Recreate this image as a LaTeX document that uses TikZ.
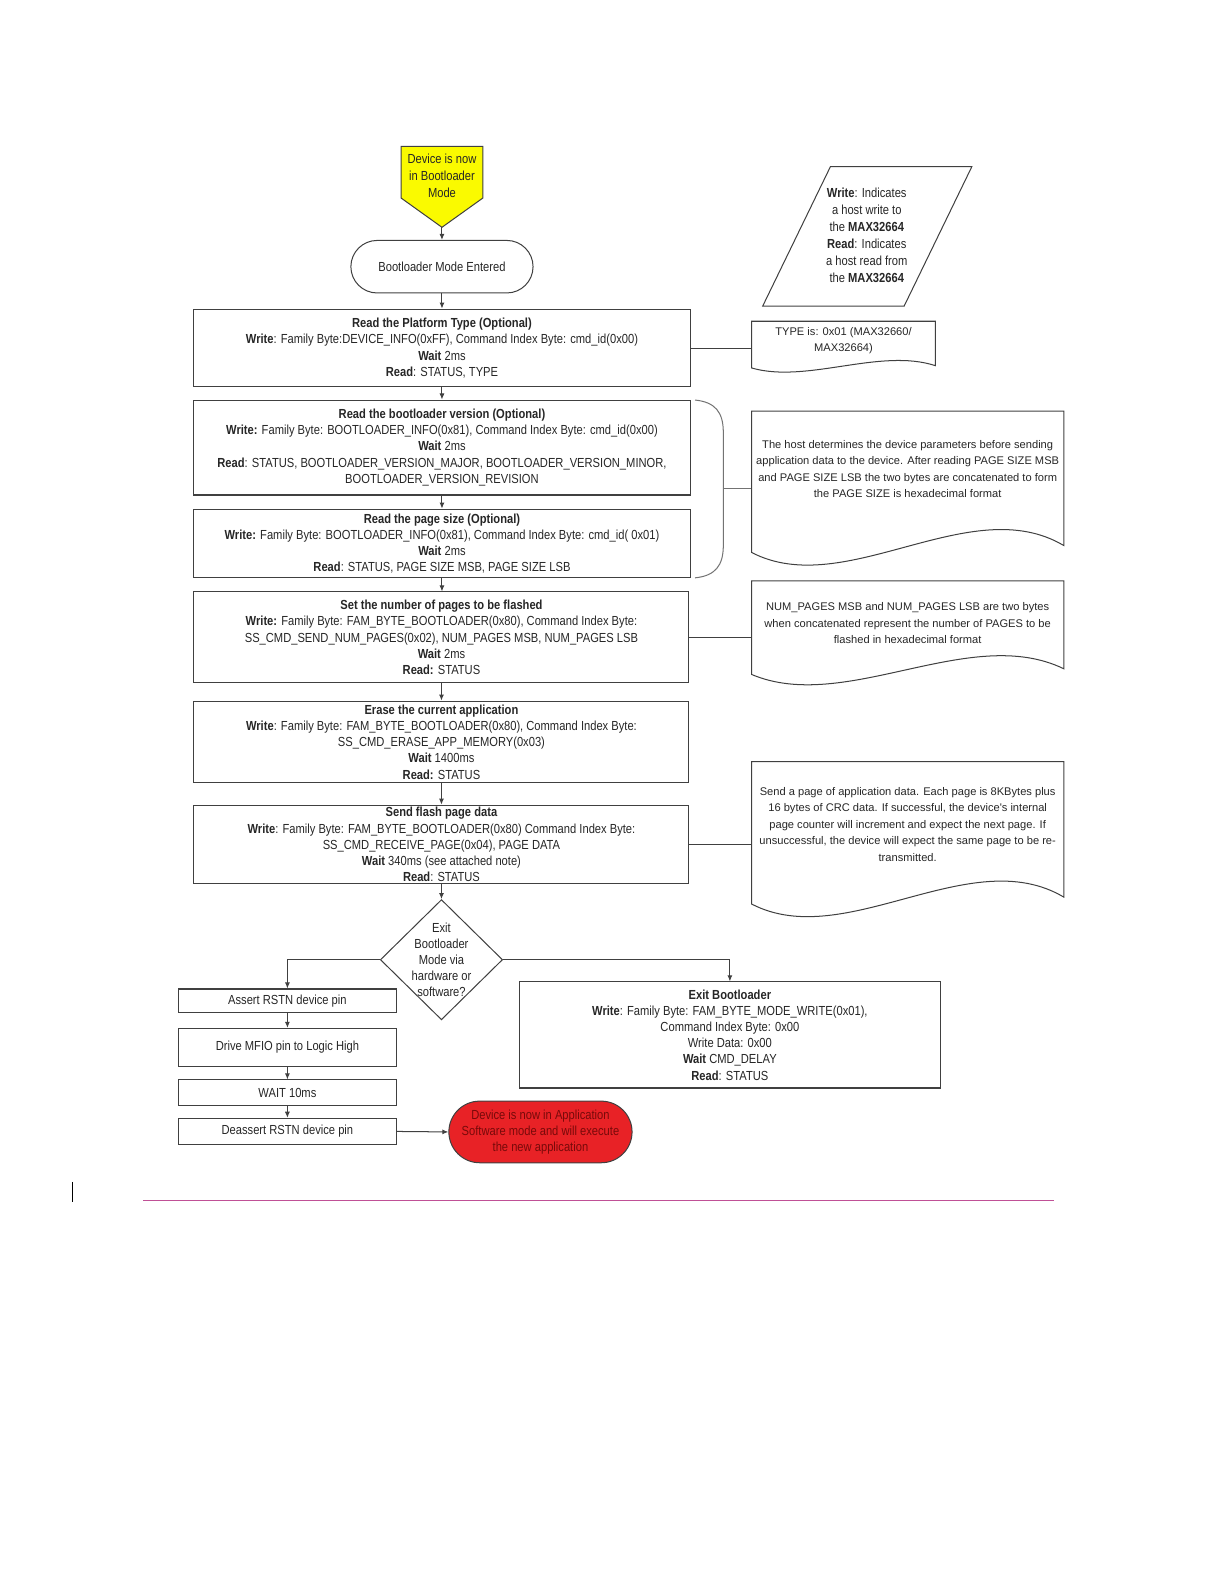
\documentclass[tikz,border=0pt]{standalone}
\usepackage{fontspec}
\setmainfont{Liberation Sans}[FakeStretch=0.85]
\newfontfamily\notefont{Liberation Sans}
\usetikzlibrary{positioning, arrows.meta, shapes.geometric, shapes.misc, calc}

\definecolor{bootyellow}{RGB}{250,250,0}
\definecolor{appred}{RGB}{232,34,38}
\definecolor{apptext}{RGB}{120,10,10}
\definecolor{rulemagenta}{RGB}{192,80,150}

% document outline with wavy bottom: x1, top, x2, bottom, amplitude
\newcommand{\docbox}[5]{%
  \draw[outline] (#1,#2) -- (#3,#2) -- (#3,#4)
    .. controls ({#3-0.3*(#3-#1)},{#4-#5}) and ({#1+0.3*(#3-#1)},{#4+#5}) .. (#1,{#4+#5/8}) -- cycle;}

\begin{document}
\begin{tikzpicture}[x=1pt, y=-1pt, font=\fontsize{13}{16}\selectfont, text=black!85]
	% styles
	\tikzset{
		outline/.style={draw=black!75, line width=1pt},
		arr/.style={outline, -{Latex[length=6pt,width=5pt]}},
		stepbox/.style={outline, rectangle, align=center, inner sep=2pt},
		note/.style={align=center, minimum width=309pt, inner xsep=0pt, font=\notefont\fontsize{11}{16.3}\selectfont}
	}
	\useasboundingbox (0,0) rectangle (1212,1568);

	% entry
	\draw[outline, fill=bootyellow] (397,145) -- (478,145) -- (478,196) -- (437.5,225) -- (397,196) -- cycle;
	\node (devboot) [align=center, font=\fontsize{13}{17}\selectfont] at (437.5,174) {Device is now\\in Bootloader\\Mode};
	\coordinate (devtip) at (437.5,225);
	\node (entered) [outline, rounded rectangle, minimum width=187pt, minimum height=52pt] at (437.5,264) {Bootloader Mode Entered};

	% main steps
	\node (platform) [stepbox, minimum width=492pt, minimum height=77pt] at (437.5,344.5)
		{\textbf{Read the Platform Type (Optional)}\\
		 \textbf{Write}: Family Byte:DEVICE\_INFO(0xFF), Command Index Byte: cmd\_id(0x00)\\
		 \textbf{Wait} 2ms\\
		 \textbf{Read}: STATUS, TYPE};
	\node (blver) [stepbox, minimum width=492pt, minimum height=94pt] at (437.5,443)
		{\textbf{Read the bootloader version (Optional)}\\
		 \textbf{Write:} Family Byte: BOOTLOADER\_INFO(0x81), Command Index Byte: cmd\_id(0x00)\\
		 \textbf{Wait} 2ms\\
		 \textbf{Read}: STATUS, BOOTLOADER\_VERSION\_MAJOR, BOOTLOADER\_VERSION\_MINOR,\\
		 BOOTLOADER\_VERSION\_REVISION};
	\node (pgsize) [stepbox, minimum width=492pt, minimum height=68pt] at (437.5,538)
		{\textbf{Read the page size (Optional)}\\
		 \textbf{Write:} Family Byte: BOOTLOADER\_INFO(0x81), Command Index Byte: cmd\_id( 0x01)\\
		 \textbf{Wait} 2ms\\
		 \textbf{Read}: STATUS, PAGE SIZE MSB, PAGE SIZE LSB};
	\node (npages) [stepbox, minimum width=490pt, minimum height=90pt] at (437,631)
		{\textbf{Set the number of pages to be flashed}\\
		 \textbf{Write:} Family Byte: FAM\_BYTE\_BOOTLOADER(0x80), Command Index Byte:\\
		 SS\_CMD\_SEND\_NUM\_PAGES(0x02), NUM\_PAGES MSB, NUM\_PAGES LSB\\
		 \textbf{Wait} 2ms\\
		 \textbf{Read:} STATUS};
	\node (erase) [stepbox, minimum width=490pt, minimum height=81pt] at (437,734.5)
		{\textbf{Erase the current application}\\
		 \textbf{Write}: Family Byte: FAM\_BYTE\_BOOTLOADER(0x80), Command Index Byte:\\
		 SS\_CMD\_ERASE\_APP\_MEMORY(0x03)\\
		 \textbf{Wait} 1400ms\\
		 \textbf{Read:} STATUS};
	\node (sendpg) [stepbox, minimum width=490pt, minimum height=78pt] at (437,836)
		{\textbf{Send flash page data}\\
		 \textbf{Write}: Family Byte: FAM\_BYTE\_BOOTLOADER(0x80) Command Index Byte:\\
		 SS\_CMD\_RECEIVE\_PAGE(0x04), PAGE DATA\\
		 \textbf{Wait} 340ms (see attached note)\\
		 \textbf{Read}: STATUS};

	% decision
	\node (exitq) [outline, diamond, minimum width=121pt, minimum height=119pt, inner sep=0pt] at (437,950) {};
	\node (exitqtxt) [align=center] at (exitq) {Exit\\Bootloader\\Mode via\\hardware or\\software?};

	% hardware exit
	\node (asrt) [stepbox, minimum width=215pt, minimum height=23pt] at (284.5,990.5) {Assert RSTN device pin};
	\node (mfio) [stepbox, minimum width=215pt, minimum height=38pt] at (284.5,1037) {Drive MFIO pin to Logic High};
	\node (waitms) [stepbox, minimum width=215pt, minimum height=25pt] at (284.5,1081.5) {WAIT 10ms};
	\node (deasrt) [stepbox, minimum width=215pt, minimum height=26pt] at (284.5,1120) {Deassert RSTN device pin};
	\node (appmode) [outline, rounded rectangle, fill=appred, text=apptext, align=center, minimum width=188pt, minimum height=61pt] at (535,1120.5)
		{Device is now in Application\\Software mode and will execute\\the new application};

	% software exit
	\node (exitbl) [stepbox, minimum width=417pt, minimum height=105pt] at (722.5,1024.5)
		{\textbf{Exit Bootloader}\\
		 \textbf{Write}: Family Byte: FAM\_BYTE\_MODE\_WRITE(0x01),\\
		 Command Index Byte: 0x00\\
		 Write Data: 0x00\\
		 \textbf{Wait} CMD\_DELAY\\
		 \textbf{Read}: STATUS};

	% arrows
	\draw[arr] (devtip) -- (entered.north);
	\foreach \a/\b in {entered/platform, platform/blver, blver/pgsize, pgsize/npages, npages/erase, erase/sendpg, sendpg/exitq, asrt/mfio, mfio/waitms, waitms/deasrt}
		\draw[arr] (\a.south) -- (\a.south |- \b.north);
	\draw[arr] (exitq.west) -| (asrt.north);
	\draw[arr] (exitq.east) -| (exitbl.north);
	\draw[arr] (deasrt.east) -- (appmode.west);

	% legend
	\draw[outline] (755,303) -- (822,165) -- (962,165) -- (895,303) -- cycle;
	\node (legend) [align=center, font=\fontsize{13}{16.8}\selectfont] at (858,233)
		{\textbf{Write}: Indicates\\a host write to\\the \textbf{MAX32664}\\\textbf{Read}: Indicates\\a host read from\\the \textbf{MAX32664}};

	% notes
	\docbox{744}{318}{926}{362}{18}
	\node (typedoc) [note, minimum width=182pt] at (835,337) {TYPE is: 0x01 (MAX32660/\\MAX32664)};
	\docbox{744}{407}{1053}{540}{55}
	\node (paramnote) [note] at (898.5,464.5)
		{The host determines the device parameters before sending\\
		 application data to the device. After reading PAGE SIZE MSB\\
		 and PAGE SIZE LSB the two bytes are concatenated to form\\
		 the PAGE SIZE is hexadecimal format};
	\docbox{744}{575}{1053}{662}{45}
	\node (pagesnote) [note] at (898.5,617)
		{NUM\_PAGES MSB and NUM\_PAGES LSB are two bytes\\
		 when concatenated represent the number of PAGES to be\\
		 flashed in hexadecimal format};
	\docbox{744}{754}{1053}{888}{55}
	\node (sendnote) [note] at (898.5,816)
		{Send a page of application data. Each page is 8KBytes plus\\
		 16 bytes of CRC data. If successful, the device's internal\\
		 page counter will increment and expect the next page. If\\
		 unsuccessful, the device will expect the same page to be re-\\
		 transmitted.};

	% brace and note links
	\draw[outline, draw=black!55] (688,396) .. controls (708,398) and (716,408) .. (716,428) -- (716,540) .. controls (716,560) and (708,570) .. (688,572);
	\coordinate (brc) at (716,484);
	\draw[outline, draw=black!55] (brc) -- (brc -| paramnote.west);
	\draw[outline] (platform.east) -- (platform.east -| typedoc.west);
	\draw[outline] (npages.east) -- (npages.east -| pagesnote.west);
	\draw[outline] (sendpg.east) -- (sendpg.east -| sendnote.west);

	% page rule
	\draw[black, line width=1pt] (72,1170) -- (72,1190);
	\draw[rulemagenta, line width=1.2pt] (142,1188) -- (1043,1188);
\end{tikzpicture}
\end{document}
